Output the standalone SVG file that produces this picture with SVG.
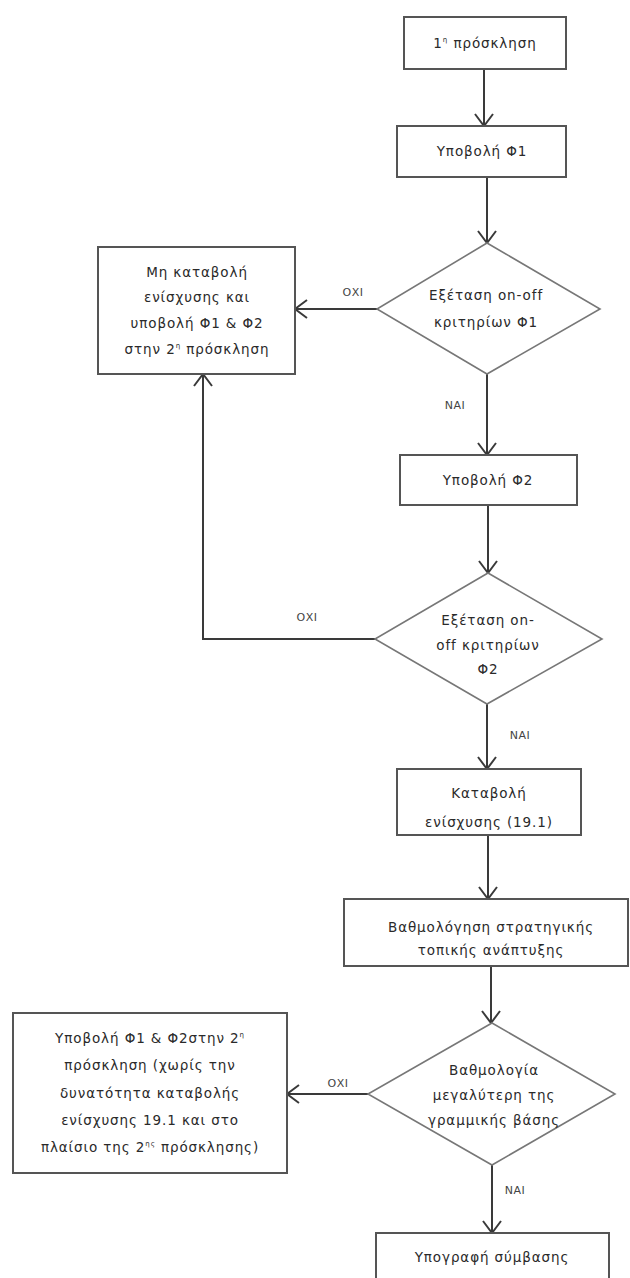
<svg xmlns="http://www.w3.org/2000/svg" width="630" height="1278" viewBox="0 0 630 1278">
<defs>
<style>
.box{fill:#fff;stroke:#555;stroke-width:2}
.dia{fill:#fff;stroke:#777;stroke-width:1.6}
.t{font-family:"DejaVu Sans","Liberation Sans",sans-serif;font-size:13.5px;fill:#2a2a2a;text-anchor:middle;letter-spacing:0.9px}
.lbl{font-family:"DejaVu Sans","Liberation Sans",sans-serif;font-size:11px;fill:#444;text-anchor:middle;letter-spacing:0.5px}
.c{fill:none;stroke:#3a3a3a;stroke-width:2;marker-end:url(#ah)}
</style>
<marker id="ah" viewBox="0 0 14 20" refX="13" refY="10" markerWidth="14" markerHeight="20" markerUnits="userSpaceOnUse" orient="auto">
<path d="M1,1 L13,10 L1,19" fill="none" stroke="#3a3a3a" stroke-width="2"/>
</marker>
</defs>
<rect width="630" height="1278" fill="#fff"/>
<g id="connectors">
<path class="c" d="M484,69 L484,126"/>
<path class="c" d="M487,177 L487,243"/>
<path class="c" d="M377,309 L295,309"/>
<path class="c" d="M487,374 L487,455"/>
<path class="c" d="M488,505 L488,573"/>
<path class="c" d="M375,639 L203,639 L203,374"/>
<path class="c" d="M487,704 L487,769"/>
<path class="c" d="M488,835 L488,899"/>
<path class="c" d="M491,966 L491,1023"/>
<path class="c" d="M368,1094 L287,1094"/>
<path class="c" d="M492,1165 L492,1233"/>
<text class="lbl" x="353" y="296">ΟΧΙ</text>
<text class="lbl" x="455" y="409">ΝΑΙ</text>
<text class="lbl" x="307" y="621">ΟΧΙ</text>
<text class="lbl" x="520" y="739">ΝΑΙ</text>
<text class="lbl" x="338" y="1087">ΟΧΙ</text>
<text class="lbl" x="515" y="1194">ΝΑΙ</text>
</g>
<g id="n1">
<rect class="box" x="404" y="17" width="162" height="52"/>
<text class="t" x="485" y="48">1<tspan font-size="7" dy="-6">η</tspan><tspan dy="6"> πρόσκληση</tspan></text>
</g>
<g id="n2">
<rect class="box" x="397" y="126" width="169" height="51"/>
<text class="t" x="482" y="156">Υποβολή Φ1</text>
</g>
<g id="d1">
<polygon class="dia" points="487,243 600,309 487,374 377,309"/>
<text class="t" x="486" y="300">Εξέταση on-off</text>
<text class="t" x="486" y="327">κριτηρίων Φ1</text>
</g>
<g id="n3">
<rect class="box" x="98" y="247" width="197" height="127"/>
<text class="t" x="197" y="277">Μη καταβολή</text>
<text class="t" x="197" y="302">ενίσχυσης και</text>
<text class="t" x="197" y="328">υποβολή Φ1 &amp; Φ2</text>
<text class="t" x="197" y="354">στην 2<tspan font-size="7" dy="-6">η</tspan><tspan dy="6"> πρόσκληση</tspan></text>
</g>
<g id="n4">
<rect class="box" x="400" y="455" width="177" height="50"/>
<text class="t" x="488" y="485">Υποβολή Φ2</text>
</g>
<g id="d2">
<polygon class="dia" points="488,573 602,639 487,704 375,639"/>
<text class="t" x="488" y="625">Εξέταση on-</text>
<text class="t" x="488" y="650">off κριτηρίων</text>
<text class="t" x="488" y="674">Φ2</text>
</g>
<g id="n5">
<rect class="box" x="397" y="769" width="184" height="66"/>
<text class="t" x="489" y="798">Καταβολή</text>
<text class="t" x="489" y="827">ενίσχυσης (19.1)</text>
</g>
<g id="n6">
<rect class="box" x="344" y="899" width="284" height="67"/>
<text class="t" x="491" y="932">Βαθμολόγηση στρατηγικής</text>
<text class="t" x="491" y="955">τοπικής ανάπτυξης</text>
</g>
<g id="d3">
<polygon class="dia" points="492,1023 615,1094 492,1165 368,1094"/>
<text class="t" x="494" y="1075">Βαθμολογία</text>
<text class="t" x="494" y="1100">μεγαλύτερη της</text>
<text class="t" x="494" y="1125">γραμμικής βάσης</text>
</g>
<g id="n7">
<rect class="box" x="13" y="1013" width="274" height="160"/>
<text class="t" x="150" y="1043">Υποβολή Φ1 &amp; Φ2στην 2<tspan font-size="7" dy="-6">η</tspan></text>
<text class="t" x="150" y="1070">πρόσκληση (χωρίς την</text>
<text class="t" x="150" y="1098">δυνατότητα καταβολής</text>
<text class="t" x="150" y="1125">ενίσχυσης 19.1 και στο</text>
<text class="t" x="150" y="1152">πλαίσιο της 2<tspan font-size="7" dy="-6">ης</tspan><tspan dy="6"> πρόσκλησης)</tspan></text>
</g>
<g id="n8">
<rect class="box" x="376" y="1233" width="233" height="60"/>
<text class="t" x="492" y="1262">Υπογραφή σύμβασης</text>
</g>
</svg>
